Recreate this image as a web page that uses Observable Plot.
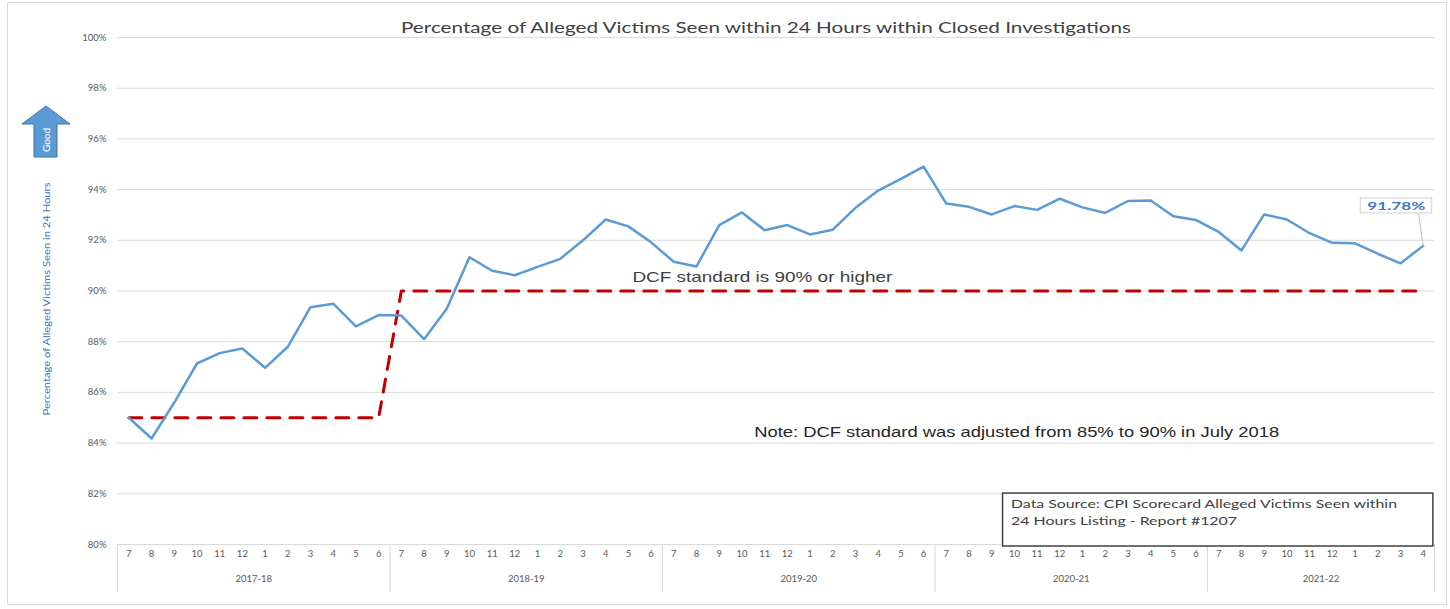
<!DOCTYPE html>
<html>
<head>
<meta charset="utf-8">
<script src="https://cdn.jsdelivr.net/npm/d3@7"></script>
<script src="https://cdn.jsdelivr.net/npm/@observablehq/plot@0.6"></script>
<style>
  html, body { margin: 0; padding: 0; background: #ffffff; }
  #chart svg { display: block; }
</style>
</head>
<body>
<div id="chart"></div>
<script>
// ---------------- data ----------------
const months = [7,8,9,10,11,12,1,2,3,4,5,6,
                7,8,9,10,11,12,1,2,3,4,5,6,
                7,8,9,10,11,12,1,2,3,4,5,6,
                7,8,9,10,11,12,1,2,3,4,5,6,
                7,8,9,10,11,12,1,2,3,4];
const fiscalYears = ["2017-18","2018-19","2019-20","2020-21","2021-22"];
const monthsPerYear = [12,12,12,12,10];
const pctSeen = [
  85.00, 84.18, 85.60, 87.14, 87.55, 87.73, 86.97, 87.80, 89.36, 89.50, 88.60, 89.05,
  89.03, 88.10, 89.30, 91.33, 90.80, 90.62, 90.95, 91.27, 92.00, 92.82, 92.55, 91.92,
  91.15, 90.97, 92.60, 93.10, 92.40, 92.60, 92.23, 92.42, 93.28, 93.96, 94.42, 94.91,
  93.45, 93.32, 93.02, 93.35, 93.20, 93.64, 93.30, 93.08, 93.55, 93.57, 92.95, 92.80,
  92.33, 91.60, 93.02, 92.82, 92.28, 91.90, 91.88, 91.47, 91.09, 91.78
];
const standard = [
  85,85,85,85,85,85,85,85,85,85,85,85,
  90,90,90,90,90,90,90,90,90,90,90,90,
  90,90,90,90,90,90,90,90,90,90,90,90,
  90,90,90,90,90,90,90,90,90,90,90,90,
  90,90,90,90,90,90,90,90,90,90
];
const yTicks = [80,82,84,86,88,90,92,94,96,98,100];
const titleText = "Percentage of Alleged Victims Seen within 24 Hours within Closed Investigations";
const yLabelText = "Percentage of Alleged Victims Seen in 24 Hours";
const goodText = "Good";
const standardNote = "DCF standard is 90% or higher";
const adjustNote = "Note: DCF standard was adjusted from 85% to 90% in July 2018";
const sourceLine1 = "Data Source: CPI Scorecard Alleged Victims Seen within";
const sourceLine2 = "24 Hours Listing - Report #1207";

// ---------------- derived tables ----------------
const rows = pctSeen.map((v, i) => ({i, month: months[i], v, s: standard[i]}));
let acc = 0;
const groups = fiscalYears.map((fy, k) => {
  const g = {fy, start: acc, end: acc + monthsPerYear[k]};
  acc += monthsPerYear[k];
  return g;
});
const n = pctSeen.length;
const boundaries = [-0.5, ...groups.map(g => g.end - 0.5)];
const last = rows[n - 1];
const lastLabel = last.v.toFixed(2) + "%";

// layout constants
const W = 1450, H = 609;
const mL = 117, mR = 16, mT = 37, mB = 65;
const pxPerUnit = (H - mT - mB) / 20;          // px per 1 %
const yAt = px => 80 - px / pxPerUnit;          // y value px below the 80% line

const plot = Plot.plot({
  width: W, height: H,
  marginLeft: mL, marginRight: mR, marginTop: mT, marginBottom: mB,
  x: {type: "linear", domain: [-0.5, n - 0.5], axis: null},
  y: {domain: [80, 100], axis: null},
  style: {fontFamily: "Lato, 'Open Sans', sans-serif", background: "transparent", color: "#595959"},
  marks: [
    // gridlines
    Plot.ruleY(yTicks, {stroke: "#d9d9d9", strokeWidth: 1}),
    // y tick labels
    Plot.text(yTicks, {x: -0.5, y: d => d, text: d => d + "%", textAnchor: "end", dx: -11,
                       fontSize: 9.5, fill: "#595959"}),
    // x axis: month labels & fiscal-year labels
    Plot.text(rows, {x: "i", y: 80, text: "month", dy: 9, fontSize: 9.5, fill: "#595959"}),
    Plot.text(groups, {x: g => (g.start + g.end - 1) / 2, y: 80, text: "fy", dy: 34,
                       fontSize: 9.5, fill: "#595959"}),
    Plot.ruleX(boundaries, {y1: 80, y2: yAt(48), stroke: "#d9d9d9", strokeWidth: 1}),
    // standard (red dashed)
    Plot.line(rows, {x: "i", y: "s", stroke: "#C00000", strokeWidth: 3, strokeDasharray: "13,10"}),
    // actual percentage line
    Plot.line(rows, {x: "i", y: "v", stroke: "#5B9BD5", strokeWidth: 2.5, strokeLinejoin: "round"}),
    // annotations
    Plot.text([standardNote], {x: 27.9, y: 90.53, fontSize: 14.5, fill: "#404040",
                               fontFamily: "'Liberation Sans', Arial, sans-serif"}),
    Plot.text([adjustNote], {x: 39.1, y: 84.42, fontSize: 14.5, fill: "#262626",
                             fontFamily: "'Liberation Sans', Arial, sans-serif"}),
    // data source box
    Plot.rect([0], {x1: 38.5, x2: n - 0.55, y1: yAt(2), y2: 82.01,
                    fill: "white", stroke: "#404040", strokeWidth: 1.5}),
    Plot.text([sourceLine1], {x: 38.85, y: 81.6, textAnchor: "start",
                              fontSize: 12, fill: "#404040"}),
    Plot.text([sourceLine2], {x: 38.85, y: 80.93, textAnchor: "start",
                              fontSize: 12, fill: "#404040"}),
    // last value label with leader line
    Plot.link([last], {x1: 56.8, y1: 93.06, x2: "i", y2: "v", stroke: "#bfbfbf", strokeWidth: 1}),
    Plot.rect([last], {x1: 54.25, x2: 57.4, y1: 93.06, y2: 93.65, fill: "white", stroke: "#d0d0d0"}),
    Plot.text([lastLabel], {x: 55.82, y: 93.36, fontSize: 11.5,
                            fontWeight: "bold", fill: "#4472C4"}),
    // title
    Plot.text([titleText], {frameAnchor: "top", lineAnchor: "middle", dy: -10, dx: -10,
                            fontSize: 16, fill: "#404040"}),
    // y axis title
    Plot.text([yLabelText], {frameAnchor: "left", textAnchor: "middle", dx: -71, dy: 8, rotate: -90,
                             fontSize: 9.5, fill: "#4472C4"})
  ]
});

document.getElementById("chart").appendChild(plot);

const svg = d3.select(plot);

// widen texts to the (horizontally stretched) widths of the reference
const widths = new Map([
  [titleText, 730], [standardNote, 260], [adjustNote, 525],
  [sourceLine1, 386], [sourceLine2, 226], [lastLabel, 58], [yLabelText, 233]
]);
svg.selectAll("text").each(function() {
  const w = widths.get(this.textContent);
  if (w) d3.select(this).attr("textLength", w).attr("lengthAdjust", "spacingAndGlyphs");
});

// outer border and "Good" arrow
svg.insert("rect", ":first-child")
  .attr("x", 7.5).attr("y", 2.5).attr("width", 1439).attr("height", 602)
  .attr("fill", "white").attr("stroke", "#d9d9d9");
const ga = svg.append("g");
ga.append("path")
  .attr("d", "M46,106 L70,124 L57,124 L57,157 L34,157 L34,124 L22,124 Z")
  .attr("fill", "#5B9BD5").attr("stroke", "#41719C").attr("stroke-width", 1);
ga.append("text")
  .attr("transform", "translate(46,140) rotate(-90)")
  .attr("text-anchor", "middle").attr("dy", "0.35em")
  .attr("fill", "white").attr("font-size", 10)
  .attr("font-family", "Lato, sans-serif")
  .text(goodText);
</script>
</body>
</html>
